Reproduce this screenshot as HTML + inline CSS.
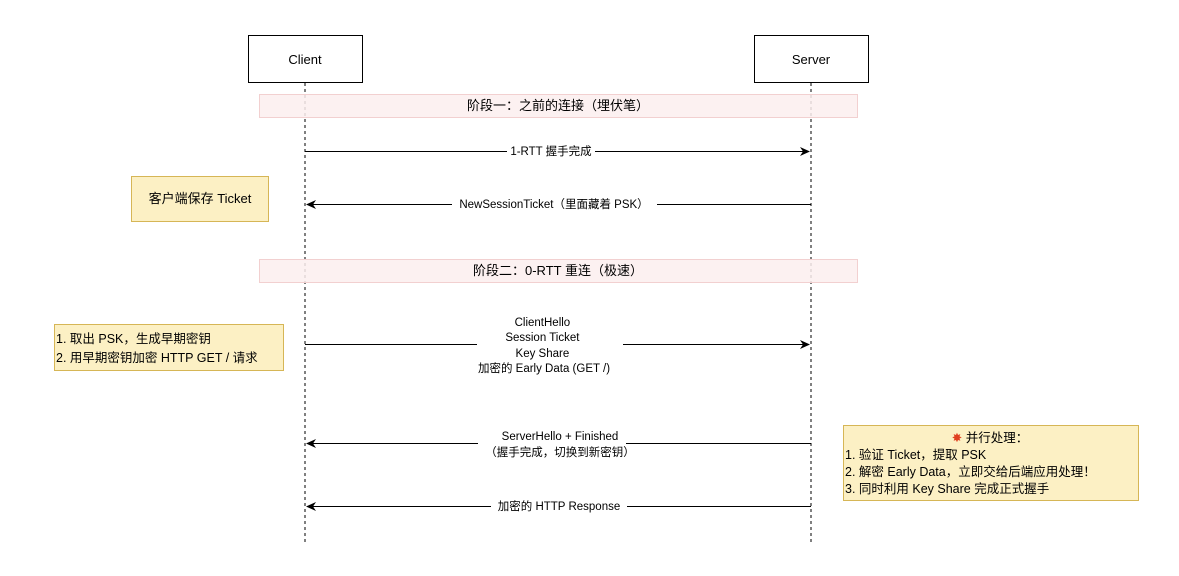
<!DOCTYPE html>
<html><head><meta charset="utf-8"><style>
html,body{margin:0;padding:0;background:#fff;}
svg{display:block;}
text{font-family:"Liberation Sans","Noto Sans CJK SC",sans-serif;fill:#000;}
</style></head><body>
<svg width="1179" height="576" viewBox="0 0 1179 576" xmlns="http://www.w3.org/2000/svg">
<defs>
<marker id="ah" viewBox="0 0 10 10" refX="9" refY="5" markerWidth="10" markerHeight="10" orient="auto-start-reverse" markerUnits="userSpaceOnUse">
<path d="M0,0.5 L10,5 L0,9.5 L3,5 Z" fill="#000"/>
</marker>
</defs>
<line x1="305" y1="83" x2="305" y2="542" stroke="#000" stroke-dasharray="3,3"/>
<line x1="811" y1="83" x2="811" y2="542" stroke="#000" stroke-dasharray="3,3"/>
<rect x="248.5" y="35.5" width="114" height="47" fill="#fff" stroke="#000"/>
<text x="305" y="64" font-size="13" text-anchor="middle">Client</text>
<rect x="754.5" y="35.5" width="114" height="47" fill="#fff" stroke="#000"/>
<text x="811" y="64" font-size="13" text-anchor="middle">Server</text>
<rect x="259.5" y="94.5" width="598" height="23" fill="#fbefef" stroke="#f2d0d0" fill-opacity="0.85"/>
<text x="558" y="110" font-size="13" text-anchor="middle">阶段一：之前的连接（埋伏笔）</text>
<rect x="259.5" y="259.5" width="598" height="23" fill="#fbefef" stroke="#f2d0d0" fill-opacity="0.85"/>
<text x="558" y="275" font-size="13" text-anchor="middle">阶段二：0-RTT 重连（极速）</text>
<line x1="305" y1="151.5" x2="809" y2="151.5" stroke="#000" marker-end="url(#ah)"/>
<rect x="507" y="144" width="88" height="15" fill="#fff"/>
<text x="551" y="155" font-size="11.5" text-anchor="middle">1-RTT 握手完成</text>
<line x1="811" y1="204.5" x2="307" y2="204.5" stroke="#000" marker-end="url(#ah)"/>
<rect x="452" y="197" width="205" height="15" fill="#fff"/>
<text x="554" y="208" font-size="11.5" text-anchor="middle">NewSessionTicket（里面藏着 PSK）</text>
<rect x="131.5" y="176.5" width="137" height="45" fill="#fcf0c4" stroke="#d6b656"/>
<text x="200" y="203" font-size="13" text-anchor="middle">客户端保存 Ticket</text>
<line x1="305" y1="344.5" x2="809" y2="344.5" stroke="#000" marker-end="url(#ah)"/>
<rect x="477" y="314" width="146" height="62" fill="#fff"/>
<text font-size="11.5" text-anchor="middle">
<tspan x="544" y="326">ClientHello</tspan>
<tspan x="544" y="341">Session Ticket</tspan>
<tspan x="544" y="357">Key Share</tspan>
<tspan x="544" y="372">加密的 Early Data (GET /)</tspan>
</text>
<rect x="54.5" y="324.5" width="229" height="46" fill="#fcf0c4" stroke="#d6b656"/>
<text font-size="12.5"><tspan x="56" y="343">1. 取出 PSK，生成早期密钥</tspan><tspan x="56" y="362">2. 用早期密钥加密 HTTP GET / 请求</tspan></text>
<line x1="811" y1="443.5" x2="307" y2="443.5" stroke="#000" marker-end="url(#ah)"/>
<rect x="478" y="428" width="148" height="32" fill="#fff"/>
<text font-size="11.5" text-anchor="middle"><tspan x="560" y="440">ServerHello + Finished</tspan><tspan x="560" y="456">（握手完成，切换到新密钥）</tspan></text>
<line x1="811" y1="506.5" x2="307" y2="506.5" stroke="#000" marker-end="url(#ah)"/>
<rect x="491" y="499" width="136" height="15" fill="#fff"/>
<text x="559" y="510" font-size="11.5" text-anchor="middle">加密的 HTTP Response</text>
<rect x="843.5" y="425.5" width="295" height="75" fill="#fcf0c4" stroke="#d6b656"/>
<text x="990" y="442" font-size="12.5" text-anchor="middle"><tspan fill="#e04020">✸</tspan> 并行处理：</text>
<text font-size="12.5"><tspan x="845" y="459">1. 验证 Ticket，提取 PSK</tspan><tspan x="845" y="476">2. 解密 Early Data，立即交给后端应用处理！</tspan><tspan x="845" y="493">3. 同时利用 Key Share 完成正式握手</tspan></text>
</svg>
</body></html>
